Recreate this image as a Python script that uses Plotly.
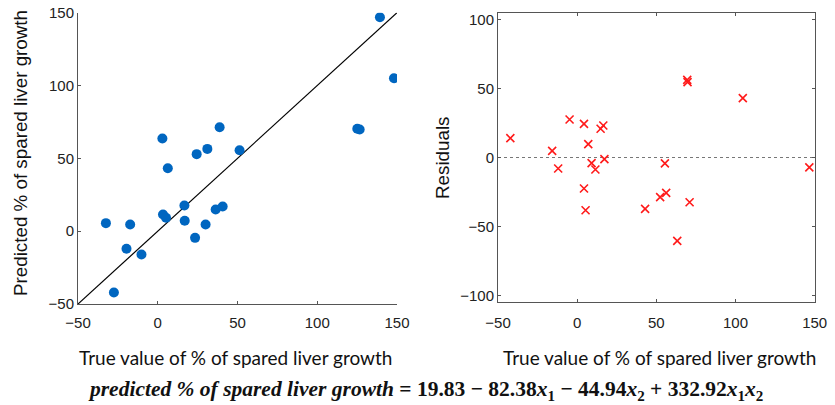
import plotly.graph_objects as go

# ---- data ----
true_values = [139.3, 148.1, 125.1, 126.6, 38.8, 2.9, 31.1, 24.4, 51.3, 6.3, 16.7, 36.3,
               40.7, 3.3, 5.2, 16.9, 30.0, 23.4, -32.5, -17.3, -19.6, -10.2, -27.5]
predicted_values = [146.9, 105.0, 70.3, 69.8, 71.4, 63.6, 56.5, 52.9, 55.6, 43.2, 17.6, 14.9,
                    16.9, 11.4, 9.2, 7.1, 4.6, -4.6, 5.5, 4.6, -12.1, -16.0, -42.1]

resid_x = [-42.2, -15.8, -12.0, -4.8, 4.3, 7.0, 9.1, 11.5, 4.3, 5.3, 14.8, 16.5, 17.2,
           42.9, 52.4, 56.2, 55.4, 63.2, 69.5, 69.7, 71.0, 104.6, 146.6]
resid_y = [14.0, 4.8, -8.0, 27.5, 24.4, 9.7, -4.1, -8.7, -22.5, -38.2, 20.8, 23.2, -1.2,
           -37.2, -28.7, -25.6, -4.3, -60.4, 56.3, 54.6, -32.4, 43.0, -7.2]

x_limits = [-50, 150]
left_y_limits = [-50, 150]
right_y_limits = [-104.5, 104.5]
ticks_x = [-50, 0, 50, 100, 150]
ticks_left_y = [-50, 0, 50, 100, 150]
ticks_right_y = [-100, -50, 0, 50, 100]
zero_level = [0, 0]

x_title = "True value of % of spared liver growth"
left_y_title = "Predicted % of spared liver growth"
right_y_title = "Residuals"
formula = ("<b><i>predicted % of spared liver growth</i> = 19.83 − 82.38<i>x</i><sub>1</sub>"
           " − 44.94<i>x</i><sub>2</sub> + 332.92<i>x</i><sub>1</sub><i>x</i><sub>2</sub></b>")

W, H = 835, 405

fig = go.Figure()

# identity line
fig.add_trace(go.Scatter(x=x_limits, y=left_y_limits, mode="lines",
                         line=dict(color="black", width=1.2),
                         xaxis="x", yaxis="y", showlegend=False, hoverinfo="skip"))
fig.add_trace(go.Scatter(x=true_values, y=predicted_values, mode="markers",
                         marker=dict(color="#0066C0", size=10, line=dict(width=0)),
                         xaxis="x", yaxis="y", showlegend=False))

# residual zero line
fig.add_trace(go.Scatter(x=x_limits, y=zero_level, mode="lines",
                         line=dict(color="#777777", width=1.2, dash="dot"),
                         xaxis="x2", yaxis="y2", showlegend=False, hoverinfo="skip"))
fig.add_trace(go.Scatter(x=resid_x, y=resid_y, mode="markers",
                         marker=dict(color="#FF1A1A", size=8, symbol="x-thin",
                                     line=dict(color="#FF1A1A", width=1.6)),
                         xaxis="x2", yaxis="y2", showlegend=False))

tickfont = dict(family="Liberation Sans, Arial", size=15, color="#222222")
axis_common = dict(showgrid=False, zeroline=False, showline=True, linecolor="#555555",
                   linewidth=1, ticks="inside", ticklen=3, tickcolor="#555555",
                   tickfont=tickfont, automargin=False)

def px_x(p):
    return p / W

def px_y(p):
    return 1 - p / H

fig.update_layout(
    template="none",
    width=W, height=H,
    margin=dict(l=0, r=0, t=0, b=0, pad=0),
    paper_bgcolor="white", plot_bgcolor="white",
    xaxis=dict(domain=[px_x(78), px_x(397)], range=x_limits, tickvals=ticks_x,
               anchor="y", ticklabelstandoff=5, **axis_common),
    yaxis=dict(domain=[px_y(304), px_y(12.7)], range=left_y_limits, tickvals=ticks_left_y,
               anchor="x", **axis_common),
    xaxis2=dict(domain=[px_x(498), px_x(814.7)], range=x_limits, tickvals=ticks_x,
                anchor="y2", mirror="ticks", ticklabelstandoff=7, **axis_common),
    yaxis2=dict(domain=[px_y(301.7), px_y(13.3)], range=right_y_limits, tickvals=ticks_right_y,
                anchor="x2", mirror="ticks", **axis_common),
)

title_font = dict(family="Lato, Liberation Sans", size=19, color="#111111")
ylab_font = dict(family="Liberation Sans, Arial", size=18.8, color="#111111")

fig.add_annotation(text=x_title, x=px_x(236), y=px_y(357), xref="paper", yref="paper",
                   showarrow=False, font=title_font, xanchor="center", yanchor="middle")
fig.add_annotation(text=x_title, x=px_x(659), y=px_y(357), xref="paper", yref="paper",
                   showarrow=False, font=title_font, xanchor="center", yanchor="middle")
fig.add_annotation(text=left_y_title, x=px_x(20), y=px_y(153), xref="paper", yref="paper",
                   showarrow=False, font=ylab_font, textangle=-90,
                   xanchor="center", yanchor="middle")
fig.add_annotation(text=right_y_title, x=px_x(442), y=px_y(158), xref="paper", yref="paper",
                   showarrow=False, font=ylab_font, textangle=-90,
                   xanchor="center", yanchor="middle")
fig.add_annotation(text=formula, x=px_x(425), y=px_y(390), xref="paper", yref="paper",
                   showarrow=False,
                   font=dict(family="Liberation Serif, DejaVu Serif", size=21.5, color="#111111"),
                   xanchor="center", yanchor="middle")

fig.write_html("out.html", config={"displayModeBar": False},
               post_script="document.body.style.margin='0';")
